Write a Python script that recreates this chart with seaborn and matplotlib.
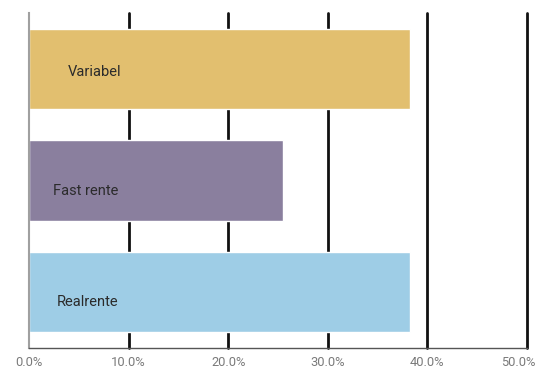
import matplotlib
matplotlib.use("Agg")
import matplotlib.pyplot as plt
import matplotlib.transforms as mtransforms
import seaborn as sns
import pandas as pd
from matplotlib.ticker import FuncFormatter

categories = ["Variabel", "Fast rente", "Realrente"]
values = [38.3, 25.5, 38.3]
colors = ["#E2BF6F", "#8A7F9E", "#9ECDE6"]
xticks = [0, 10, 20, 30, 40, 50]

sns.set_style("white")
plt.rcParams["font.family"] = ["Roboto", "DejaVu Sans"]

df = pd.DataFrame({"kategori": categories, "andel": values})

fig = plt.figure(figsize=(5.38, 3.72), dpi=100)
ax = fig.add_axes([29/538, 1 - 348/372, 498/538, 335/372])

sns.barplot(data=df, x="andel", y="kategori", hue="kategori",
            palette=colors, orient="h", width=0.72, saturation=1,
            legend=False, ax=ax, zorder=2)

ax.set_xlim(0, 50)
ax.set_xticks(xticks)
ax.xaxis.set_major_formatter(FuncFormatter(lambda v, p: f"{v:.1f}%"))
for xv in xticks[1:]:
    ax.axvline(xv, color="#111111", lw=2, zorder=1, clip_on=False)
ax.tick_params(axis="x", length=0, labelsize=9.3, labelcolor="#7a7a7a", pad=6)
ax.set_yticks([])
ax.set_xlabel("")
ax.set_ylabel("")
for s in ["top", "right"]:
    ax.spines[s].set_visible(False)
ax.spines["left"].set_color("#a0a0a0")
ax.spines["left"].set_linewidth(1.5)
ax.spines["bottom"].set_color("#555555")
ax.spines["bottom"].set_linewidth(1)
ax.spines["bottom"].set_zorder(3)

# keep the last tick label inside the figure, as in the reference
fig.canvas.draw()
last = ax.get_xticklabels()[-1]
last.set_transform(last.get_transform() +
                   mtransforms.ScaledTranslation(-9/100, 0, fig.dpi_scale_trans))

label_x = [3.9, 2.4, 2.8]
label_dy = [0.03, 0.09, 0.09]
for i, (cat, lx, dy) in enumerate(zip(categories, label_x, label_dy)):
    ax.text(lx, i + dy, cat, va="center", ha="left", fontsize=10.5,
            color="#2b2b2b", zorder=4)

fig.savefig("out.png", dpi=100)
